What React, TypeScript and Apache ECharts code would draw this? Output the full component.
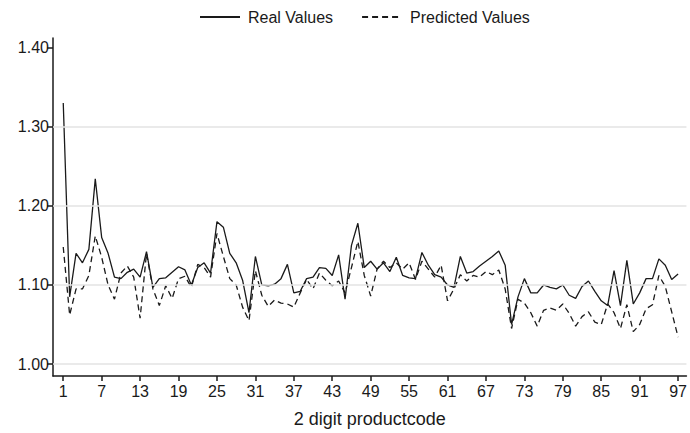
import React, { useEffect, useRef } from "react";
import * as echarts from "echarts";

const productCodes = [
  1, 2, 3, 4, 5, 6, 7, 8, 9, 10, 11, 12, 13, 14, 15, 16, 17, 18, 19, 20,
  21, 22, 23, 24, 25, 26, 27, 28, 29, 30, 31, 32, 33, 34, 35, 36, 37, 38, 39, 40,
  41, 42, 43, 44, 45, 46, 47, 48, 49, 50, 51, 52, 53, 54, 55, 56, 57, 58, 59, 60,
  61, 62, 63, 64, 65, 66, 67, 68, 69, 70, 71, 72, 73, 74, 75, 76, 77, 78, 79, 80,
  81, 82, 83, 84, 85, 86, 87, 88, 89, 90, 91, 92, 93, 94, 95, 96, 97,
];

const realValues = [
  1.330, 1.085, 1.140, 1.128, 1.145, 1.234, 1.160, 1.140, 1.110, 1.108,
  1.116, 1.120, 1.110, 1.142, 1.097, 1.108, 1.109, 1.116, 1.123, 1.119,
  1.100, 1.122, 1.128, 1.115, 1.180, 1.173, 1.140, 1.128, 1.106, 1.065,
  1.136, 1.100, 1.099, 1.101, 1.108, 1.126, 1.090, 1.092, 1.108, 1.110,
  1.122, 1.121, 1.112, 1.138, 1.082, 1.150, 1.178, 1.122, 1.130, 1.120,
  1.128, 1.117, 1.135, 1.112, 1.109, 1.108, 1.141, 1.125, 1.113, 1.110,
  1.100, 1.097, 1.136, 1.115, 1.117, 1.124, 1.130, 1.136, 1.143, 1.125,
  1.050, 1.085, 1.108, 1.090, 1.090, 1.100, 1.097, 1.095, 1.100, 1.087,
  1.083, 1.098, 1.105, 1.092, 1.080, 1.074, 1.118, 1.074, 1.131, 1.076,
  1.090, 1.108, 1.108, 1.133, 1.125, 1.107, 1.114,
];

const predictedValues = [
  1.148, 1.062, 1.095, 1.095, 1.112, 1.162, 1.135, 1.100, 1.082, 1.115,
  1.124, 1.110, 1.058, 1.140, 1.095, 1.074, 1.099, 1.083, 1.108, 1.111,
  1.097, 1.126, 1.122, 1.110, 1.165, 1.136, 1.108, 1.100, 1.072, 1.055,
  1.118, 1.087, 1.073, 1.081, 1.077, 1.076, 1.072, 1.090, 1.107, 1.095,
  1.115, 1.106, 1.099, 1.105, 1.090, 1.122, 1.155, 1.112, 1.086, 1.120,
  1.130, 1.122, 1.128, 1.120, 1.128, 1.107, 1.130, 1.120, 1.110, 1.125,
  1.080, 1.095, 1.113, 1.105, 1.112, 1.110, 1.117, 1.113, 1.119, 1.095,
  1.045, 1.082, 1.077, 1.065, 1.048, 1.068, 1.071, 1.068, 1.076, 1.064,
  1.048, 1.060, 1.066, 1.053, 1.050, 1.076, 1.065, 1.045, 1.075, 1.041,
  1.050, 1.070, 1.075, 1.112, 1.098, 1.066, 1.034,
];

const xTickLabels = [1, 7, 13, 19, 25, 31, 37, 43, 49, 55, 61, 67, 73, 79, 85, 91, 97];
const yTickLabels = [1.0, 1.1, 1.2, 1.3, 1.4];
const gridLineValues = [1.0, 1.1, 1.2, 1.3];

const FONT = "'Liberation Sans', Arial, sans-serif";
const INK = "#1a1a1a";

export default function App() {
  const ref = useRef<HTMLDivElement>(null);

  useEffect(() => {
    if (!ref.current) return;
    const chart = echarts.init(ref.current, null, { renderer: "svg" });
    chart.setOption({
      animation: false,
      backgroundColor: "#ffffff",
      textStyle: { fontFamily: FONT, color: INK },
      legend: {
        data: ["Real Values", "Predicted Values"],
        left: 194,
        top: 4,
        itemWidth: 40,
        itemHeight: 16,
        itemGap: 28,
        itemStyle: { opacity: 0 },
        textStyle: { fontFamily: FONT, fontSize: 16, color: INK, padding: [0, 0, 0, 3] },
      },
      grid: { left: 53, right: 1, top: 38, bottom: 48, containLabel: false },
      xAxis: {
        type: "value",
        min: -0.6,
        max: 98.3,
        name: "2 digit productcode",
        nameLocation: "middle",
        nameGap: 34,
        nameTextStyle: { fontFamily: FONT, fontSize: 18, color: INK },
        axisLine: { show: true, onZero: false, lineStyle: { color: INK, width: 1.5 } },
        axisTick: {
          show: true,
          length: 5,
          customValues: xTickLabels,
          lineStyle: { color: INK, width: 1.5 },
        },
        axisLabel: {
          customValues: xTickLabels,
          fontSize: 16,
          color: INK,
          margin: 7,
          fontFamily: FONT,
        },
        splitLine: { show: false },
      },
      yAxis: {
        type: "value",
        min: 0.985,
        max: 1.412,
        axisLine: { show: true, onZero: false, lineStyle: { color: INK, width: 1.5 } },
        axisTick: {
          show: true,
          length: 6,
          customValues: yTickLabels,
          lineStyle: { color: INK, width: 1.5 },
        },
        axisLabel: {
          customValues: yTickLabels,
          fontSize: 16,
          color: INK,
          margin: 4,
          fontFamily: FONT,
          formatter: (v: number) => v.toFixed(2),
        },
        splitLine: { show: false },
      },
      series: [
        {
          name: "grid",
          type: "line",
          data: [],
          z: 1,
          silent: true,
          markLine: {
            silent: true,
            symbol: "none",
            label: { show: false },
            lineStyle: { color: "#e3e3e3", width: 1.5, type: "solid" },
            data: gridLineValues.map((v) => ({ yAxis: v })),
          },
        },
        {
          name: "Real Values",
          type: "line",
          z: 3,
          symbol: "none",
          showSymbol: false,
          lineStyle: { color: INK, width: 1.3, type: "solid" },
          itemStyle: { color: INK },
          data: productCodes.map((c, i) => [c, realValues[i]]),
        },
        {
          name: "Predicted Values",
          type: "line",
          z: 3,
          symbol: "none",
          showSymbol: false,
          lineStyle: { color: INK, width: 1.3, type: [6, 4] },
          itemStyle: { color: INK },
          data: productCodes.map((c, i) => [c, predictedValues[i]]),
        },
      ],
    });
    return () => chart.dispose();
  }, []);

  return (
    <div
      ref={ref}
      style={{ position: "fixed", left: 0, top: 0, width: 690, height: 433, background: "#fff" }}
    />
  );
}
